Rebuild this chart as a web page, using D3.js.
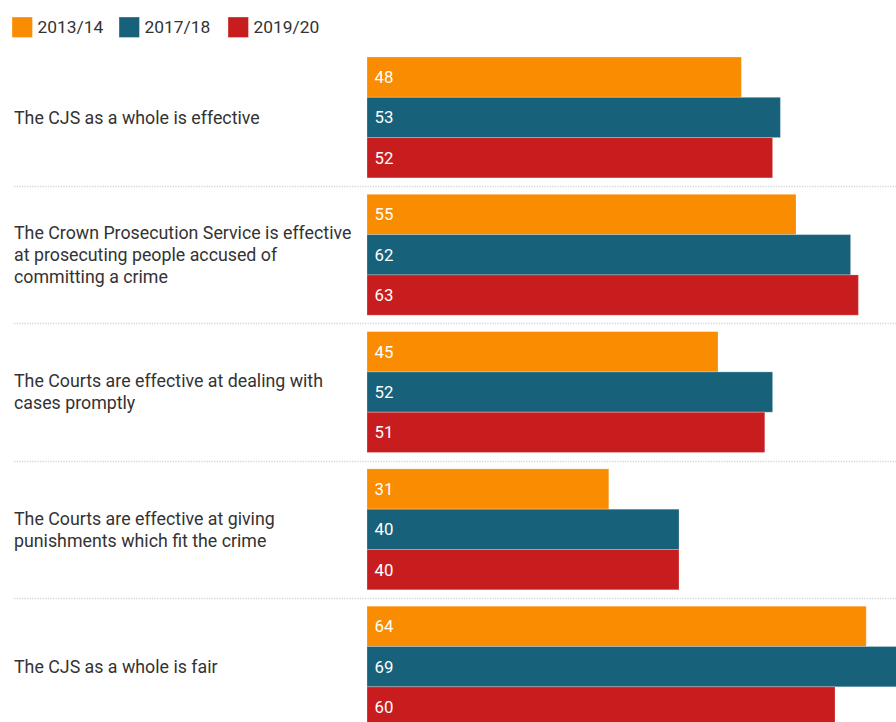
<!DOCTYPE html>
<html>
<head>
<meta charset="utf-8">
<script src="https://cdn.jsdelivr.net/npm/d3@7"></script>
<style>
  html, body { margin: 0; padding: 0; background: #fff; overflow: hidden; }
  svg { display: block; font-family: Roboto, "Noto Sans", sans-serif; }
</style>
</head>
<body>
<svg id="chart" width="896" height="722"></svg>
<script>
// Statements about the criminal justice system, % agreeing, by survey year
const categories = [
  "The CJS as a whole is effective",
  "The Crown Prosecution Service is effective at prosecuting people accused of committing a crime",
  "The Courts are effective at dealing with cases promptly",
  "The Courts are effective at giving punishments which fit the crime",
  "The CJS as a whole is fair"
];
const seriesNames = ["2013/14", "2017/18", "2019/20"];
const values2013 = [48, 55, 45, 31, 64];
const values2017 = [53, 62, 52, 40, 69];
const values2019 = [52, 63, 51, 40, 60];
const seriesColors = ["#f98c00", "#17617a", "#c81d1e"];

const seriesValues = [values2013, values2017, values2019];

const svg = d3.select("#chart");
const W = 896;

// Layout
const barLeft = 367;
const firstGroupTop = 57;
const groupPitch = 137.3;
const barH = 40.3;

const x = d3.scaleLinear().domain([0, 70]).range([barLeft, barLeft + 546]);

const y0 = d3.scaleBand()
  .domain(d3.range(categories.length))
  .range([firstGroupTop, firstGroupTop + groupPitch * categories.length])
  .paddingInner(0)
  .paddingOuter(0);

const y1 = d3.scaleBand()
  .domain(d3.range(seriesNames.length))
  .range([0, barH * seriesNames.length]);

// Legend
const legend = svg.append("g").attr("class", "legend");
const legendX = [12, 119, 228];
seriesNames.forEach((name, i) => {
  const g = legend.append("g").attr("transform", `translate(${legendX[i]},17)`);
  g.append("rect").attr("width", 20.5).attr("height", 20.5)
    .attr("fill", seriesColors[i])
    .attr("stroke", "rgba(255,255,255,0.35)").attr("stroke-width", 1);
  g.append("text").attr("x", 25.5).attr("y", 15.5)
    .attr("font-size", 17.4).attr("fill", "#333").text(name);
});

// Dotted separators between groups
svg.append("g").selectAll("line")
  .data(d3.range(1, categories.length))
  .join("line")
  .attr("x1", 14).attr("x2", W)
  .attr("y1", i => Math.round(y0(i) - 8.3) + 0.5)
  .attr("y2", i => Math.round(y0(i) - 8.3) + 0.5)
  .attr("stroke", "#d6d6d6").attr("stroke-width", 1.3)
  .attr("stroke-dasharray", "1.3,1.3");

// Groups
const groups = svg.append("g").selectAll("g.group")
  .data(categories.map((c, i) => ({ c, i })))
  .join("g").attr("class", "group")
  .attr("transform", d => `translate(0,${y0(d.i)})`);

// Bars
groups.selectAll("rect")
  .data(d => seriesValues.map((vals, s) => ({ s, v: vals[d.i] })))
  .join("rect")
  .attr("x", x(0))
  .attr("y", d => y1(d.s))
  .attr("width", d => x(d.v) - x(0))
  .attr("height", y1.bandwidth())
  .attr("fill", d => seriesColors[d.s])
  .attr("stroke", "rgba(255,255,255,0.25)").attr("stroke-width", 1);

// Value labels inside bars
groups.selectAll("text.val")
  .data(d => seriesValues.map((vals, s) => ({ s, v: vals[d.i] })))
  .join("text").attr("class", "val")
  .attr("x", x(0) + 7.5)
  .attr("y", d => y1(d.s) + y1.bandwidth() / 2)
  .attr("dy", "0.36em")
  .attr("font-size", 16.8).attr("fill", "#fff")
  .text(d => d.v);

// Category labels, wrapped to the space left of the bars
const labelWidth = 345;
const lineH = 22;
groups.append("text").attr("class", "cat")
  .attr("font-size", 17.8).attr("fill", "#333")
  .each(function (d) {
    const t = d3.select(this);
    const words = d.c.split(" ");
    const lines = [];
    let line = [];
    const probe = t.append("tspan");
    words.forEach(w => {
      line.push(w);
      probe.text(line.join(" "));
      if (probe.node().getComputedTextLength() > labelWidth && line.length > 1) {
        line.pop();
        lines.push(line.join(" "));
        line = [w];
      }
    });
    lines.push(line.join(" "));
    probe.remove();
    const mid = barH * seriesNames.length / 2;
    const startY = mid - (lines.length - 1) * lineH / 2;
    lines.forEach((l, k) => {
      t.append("tspan").attr("x", 14)
        .attr("y", startY + k * lineH)
        .attr("dy", "0.36em")
        .text(l);
    });
  });
</script>
</body>
</html>
